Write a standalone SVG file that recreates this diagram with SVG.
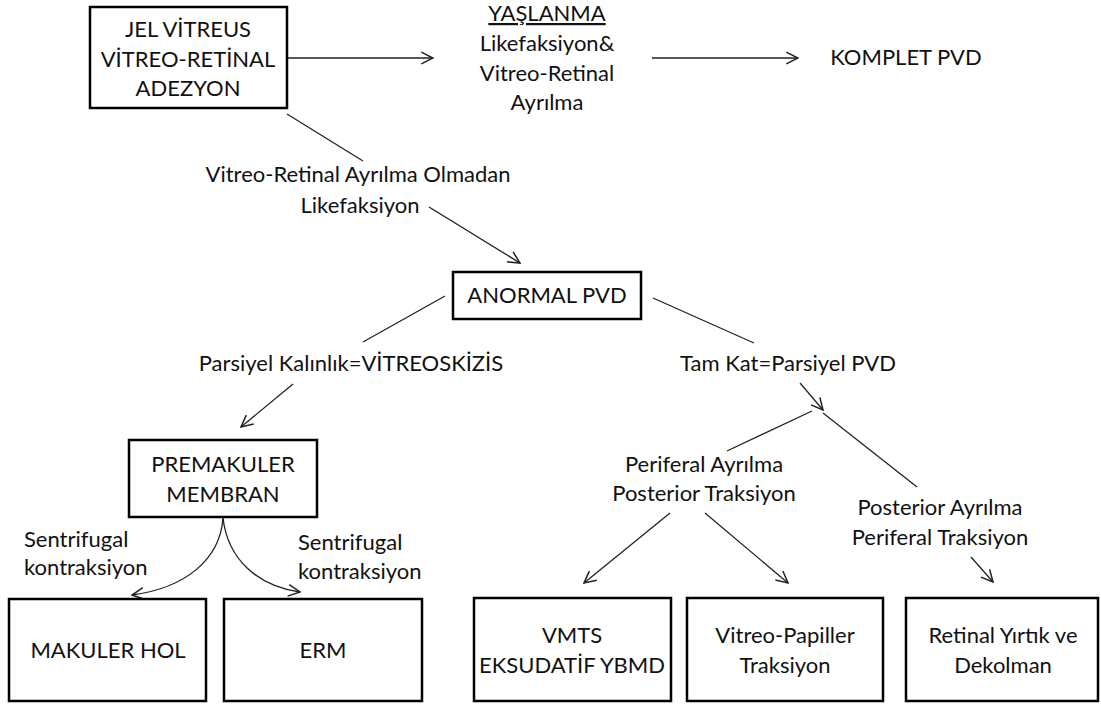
<svg xmlns="http://www.w3.org/2000/svg" width="1101" height="704" viewBox="0 0 1101 704">
<style>
  text { font-family: Lato, "Open Sans", sans-serif; font-size: 22px; fill: #111; text-anchor: middle; }
  .box { fill: #fff; stroke: #000; stroke-width: 2.5; }
  .ln { fill: none; stroke: #222; stroke-width: 1.3; }
  .lft { text-anchor: start; }
</style>
<defs>
  <marker id="ah" markerUnits="userSpaceOnUse" markerWidth="14" markerHeight="14" viewBox="0 0 12 12" refX="11" refY="6" orient="auto">
    <path d="M1,1 L11,6 L1,11" fill="none" stroke="#222" stroke-width="1.3"/>
  </marker>
</defs>
<rect width="1101" height="704" fill="#fff"/>

<g id="connectors">
  <line class="ln" x1="288" y1="58" x2="433" y2="58" marker-end="url(#ah)"/>
  <line class="ln" x1="652" y1="58" x2="798" y2="58" marker-end="url(#ah)"/>
  <line class="ln" x1="287" y1="114" x2="363" y2="161"/>
  <line class="ln" x1="429" y1="207" x2="520" y2="263" marker-end="url(#ah)"/>
  <line class="ln" x1="445" y1="296" x2="363" y2="342"/>
  <line class="ln" x1="653" y1="298" x2="754" y2="343"/>
  <line class="ln" x1="293" y1="384" x2="241" y2="427" marker-end="url(#ah)"/>
  <line class="ln" x1="800" y1="383" x2="823" y2="410" marker-end="url(#ah)"/>
  <line class="ln" x1="812" y1="411" x2="727" y2="451"/>
  <line class="ln" x1="823" y1="413" x2="917" y2="487"/>
  <line class="ln" x1="670" y1="513" x2="584" y2="583" marker-end="url(#ah)"/>
  <line class="ln" x1="705" y1="513" x2="788" y2="583" marker-end="url(#ah)"/>
  <line class="ln" x1="971" y1="557" x2="993" y2="582" marker-end="url(#ah)"/>
  <path class="ln" d="M223,518 C220,560 185,588 132,595" marker-end="url(#ah)"/>
  <path class="ln" d="M223,518 C228,560 258,586 300,592" marker-end="url(#ah)"/>
</g>

<g id="jel">
  <rect class="box" x="90" y="7" width="197" height="101"/>
  <text x="188" y="37">JEL VİTREUS</text>
  <text x="188" y="67">VİTREO-RETİNAL</text>
  <text x="188" y="96">ADEZYON</text>
</g>

<g id="yaslanma">
  <text x="547" y="21" text-decoration="underline">YAŞLANMA</text>
  <text x="547" y="51">Likefaksiyon&amp;</text>
  <text x="547" y="81">Vitreo-Retinal</text>
  <text x="547" y="110">Ayrılma</text>
</g>

<g id="komplet">
  <text x="906" y="65">KOMPLET PVD</text>
</g>

<g id="label-likefaksiyon">
  <text x="358" y="182">Vitreo-Retinal Ayrılma Olmadan</text>
  <text x="360" y="213">Likefaksiyon</text>
</g>

<g id="anormal">
  <rect class="box" x="453" y="272" width="188" height="47"/>
  <text x="547" y="303">ANORMAL PVD</text>
</g>

<g id="label-parsiyel">
  <text x="351" y="371">Parsiyel Kalınlık=VİTREOSKİZİS</text>
</g>

<g id="label-tamkat">
  <text x="788" y="371">Tam Kat=Parsiyel PVD</text>
</g>

<g id="premakuler">
  <rect class="box" x="129" y="440" width="188" height="77"/>
  <text x="223" y="472">PREMAKULER</text>
  <text x="223" y="502">MEMBRAN</text>
</g>

<g id="label-sentrifugal-left">
  <text class="lft" x="24" y="547">Sentrifugal</text>
  <text class="lft" x="24" y="575">kontraksiyon</text>
</g>

<g id="label-sentrifugal-right">
  <text class="lft" x="298" y="550">Sentrifugal</text>
  <text class="lft" x="298" y="579">kontraksiyon</text>
</g>

<g id="label-periferal-ayrilma">
  <text x="704" y="472">Periferal Ayrılma</text>
  <text x="704" y="501">Posterior Traksiyon</text>
</g>

<g id="label-posterior-ayrilma">
  <text x="940" y="515">Posterior Ayrılma</text>
  <text x="940" y="545">Periferal Traksiyon</text>
</g>

<g id="makuler-hol">
  <rect class="box" x="9" y="599" width="197" height="102"/>
  <text x="108" y="658">MAKULER HOL</text>
</g>

<g id="erm">
  <rect class="box" x="224" y="599" width="198" height="102"/>
  <text x="323" y="658">ERM</text>
</g>

<g id="vmts">
  <rect class="box" x="474" y="598" width="197" height="103"/>
  <text x="572" y="643">VMTS</text>
  <text x="572" y="673">EKSUDATİF YBMD</text>
</g>

<g id="vitreo-papiller">
  <rect class="box" x="687" y="598" width="196" height="103"/>
  <text x="785" y="643">Vitreo-Papiller</text>
  <text x="785" y="673">Traksiyon</text>
</g>

<g id="retinal">
  <rect class="box" x="906" y="598" width="192" height="103"/>
  <text x="1003" y="643">Retinal Yırtık ve</text>
  <text x="1003" y="673">Dekolman</text>
</g>
</svg>
